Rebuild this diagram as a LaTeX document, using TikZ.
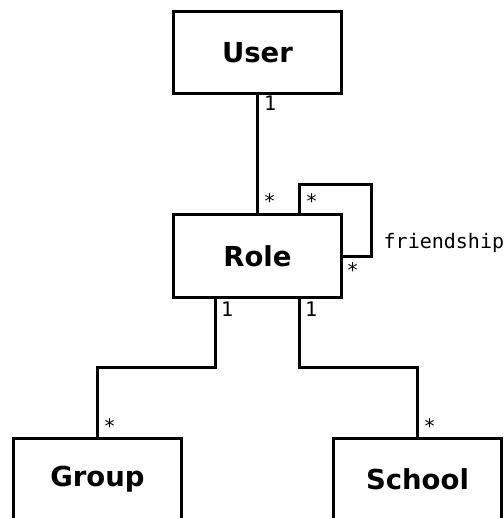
\documentclass[tikz,border=0pt]{standalone}
\usepackage{fontspec}
\setmainfont{DejaVu Sans}
\newfontfamily\multfont{DejaVu Sans Mono}
\begin{document}
\begin{tikzpicture}[x=1pt,y=-1pt,
  cls/.style={draw, line width=3pt, minimum width=168pt, minimum height=82pt,
    inner sep=0pt, outer sep=0pt, font=\fontsize{27.5}{27.5}\selectfont\bfseries},
  conn/.style={line width=3pt},
  mult/.style={font=\multfont\fontsize{20}{20}\selectfont, inner sep=0pt, anchor=base west}]
\useasboundingbox (0,0) rectangle (503,518);
\clip (0,0) rectangle (503,518);

% classes
\node[cls] (user)   at (257.5,53)    {User};
\node[cls] (role)   at (257.5,256)   {Role};
\node[cls] (group)  at (97.5,479.5)  {Group};
\node[cls] (school) at (417.5,479.5) {School};

% associations
\draw[conn] (user.south) -- (role.north);
\draw[conn] ([xshift=-42pt]role.north east) -- ++(0,-30.3)
  -| ([xshift=30pt]role.east) -- (role.east);
\draw[conn] ([xshift=42pt]role.south west) -- ++(0,70.3) -| (group.north);
\draw[conn] ([xshift=-42pt]role.south east) -- ++(0,70.3) -| (school.north);

% multiplicities and association name
\node[mult] (mUser)    at (264,111)    {1};
\node[mult] (mRoleU)   at (263.5,209)  {*};
\node[mult] (mLoopA)   at (305.5,209)  {*};
\node[mult] (mLoopB)   at (346.5,277)  {*};
\node[mult] (friend)   at (383.5,248.5) {friendship};
\node[mult] (mRoleG)   at (221,316)    {1};
\node[mult] (mRoleS)   at (305,316)    {1};
\node[mult] (mGroup)   at (103.5,433.5) {*};
\node[mult] (mSchool)  at (423.5,433.5) {*};
\end{tikzpicture}
\end{document}
